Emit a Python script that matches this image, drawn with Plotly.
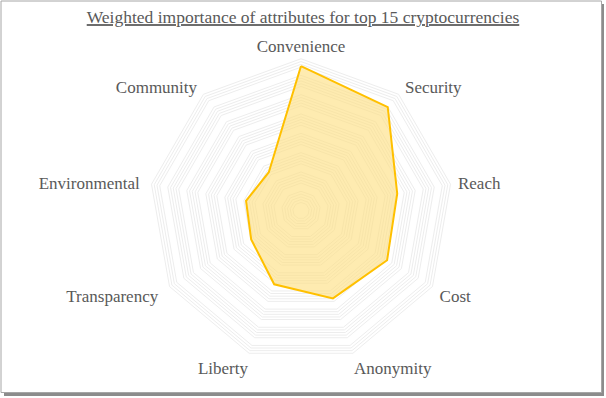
import plotly.graph_objects as go

categories = ["Convenience", "Security", "Reach", "Cost", "Anonymity",
              "Liberty", "Transparency", "Environmental", "Community"]
values = [0.935, 0.873, 0.632, 0.643, 0.604, 0.507, 0.372, 0.361, 0.324]
# horizontal padding (non-breaking spaces) pushing side labels outward
label_pad = {"Security": "\u00a0", "Reach": "\u00a0", "Cost": "\u00a0",
             "Transparency": "\u00a0\u00a0", "Environmental": "\u00a0\u00a0",
             "Community": "\u00a0"}
right_side = {"Security", "Reach", "Cost"}
tick_text = [(label_pad.get(c, "") + c) if c in right_side else (c + label_pad.get(c, ""))
             for c in categories]

# gridline levels (clusters of faint rings as in the reference)
grid_vals = []
for k in range(1, 9):
    base = k * 0.125
    for j in range(5):
        v = round(base - j * 0.018, 4)
        if v > 0:
            grid_vals.append(v)
grid_vals = sorted(set(grid_vals))

W, H = 606, 398
RMAX = 1.0
cx, cy, R = 301, 210.6, 154.6 * RMAX
FONT = "Liberation Serif, serif"

fig = go.Figure(go.Scatterpolar(
    r=values + values[:1],
    theta=categories + categories[:1],
    mode="lines",
    fill="toself",
    fillcolor="rgba(254,222,128,0.62)",
    line=dict(color="#FFC000", width=2),
    hoverinfo="skip",
    showlegend=False,
))

fig.update_layout(
    width=W, height=H,
    margin=dict(l=0, r=0, t=0, b=0),
    paper_bgcolor="white",
    font=dict(family=FONT, color="#595959", size=17),
    title=dict(
        text="<u>Weighted importance of attributes for top 15 cryptocurrencies</u>",
        x=0.5, xanchor="center", y=1 - 17 / H, yanchor="middle",
        font=dict(family=FONT, size=17.5, color="#595959"),
    ),
    polar=dict(
        domain=dict(x=[(cx - R) / W, (cx + R) / W],
                    y=[(H - cy - R) / H, (H - cy + R) / H]),
        bgcolor="rgba(0,0,0,0)",
        gridshape="linear",
        radialaxis=dict(range=[0, RMAX], tickvals=grid_vals, showticklabels=False,
                        ticks="", showline=False, gridcolor="#ededed", gridwidth=1),
        angularaxis=dict(rotation=90, direction="clockwise", showline=False,
                         tickvals=categories, ticktext=tick_text,
                         gridcolor="rgba(0,0,0,0)", ticks="",
                         tickfont=dict(size=17, color="#595959", family=FONT)),
    ),
    shapes=[
        dict(type="rect", xref="paper", yref="paper", layer="below",
             x0=4 / W, x1=604 / W, y0=(H - 396) / H, y1=(H - 4) / H,
             fillcolor="#8c8c8c", line=dict(width=0)),
        dict(type="rect", xref="paper", yref="paper", layer="below",
             x0=1 / W, x1=601.5 / W, y0=(H - 392.5) / H, y1=(H - 1) / H,
             fillcolor="white", line=dict(color="#a6a6a6", width=1)),
    ],
)

fig.write_html("out.html", config={"displayModeBar": False},
               post_script="document.body.style.margin='0';document.body.style.overflow='hidden';")
